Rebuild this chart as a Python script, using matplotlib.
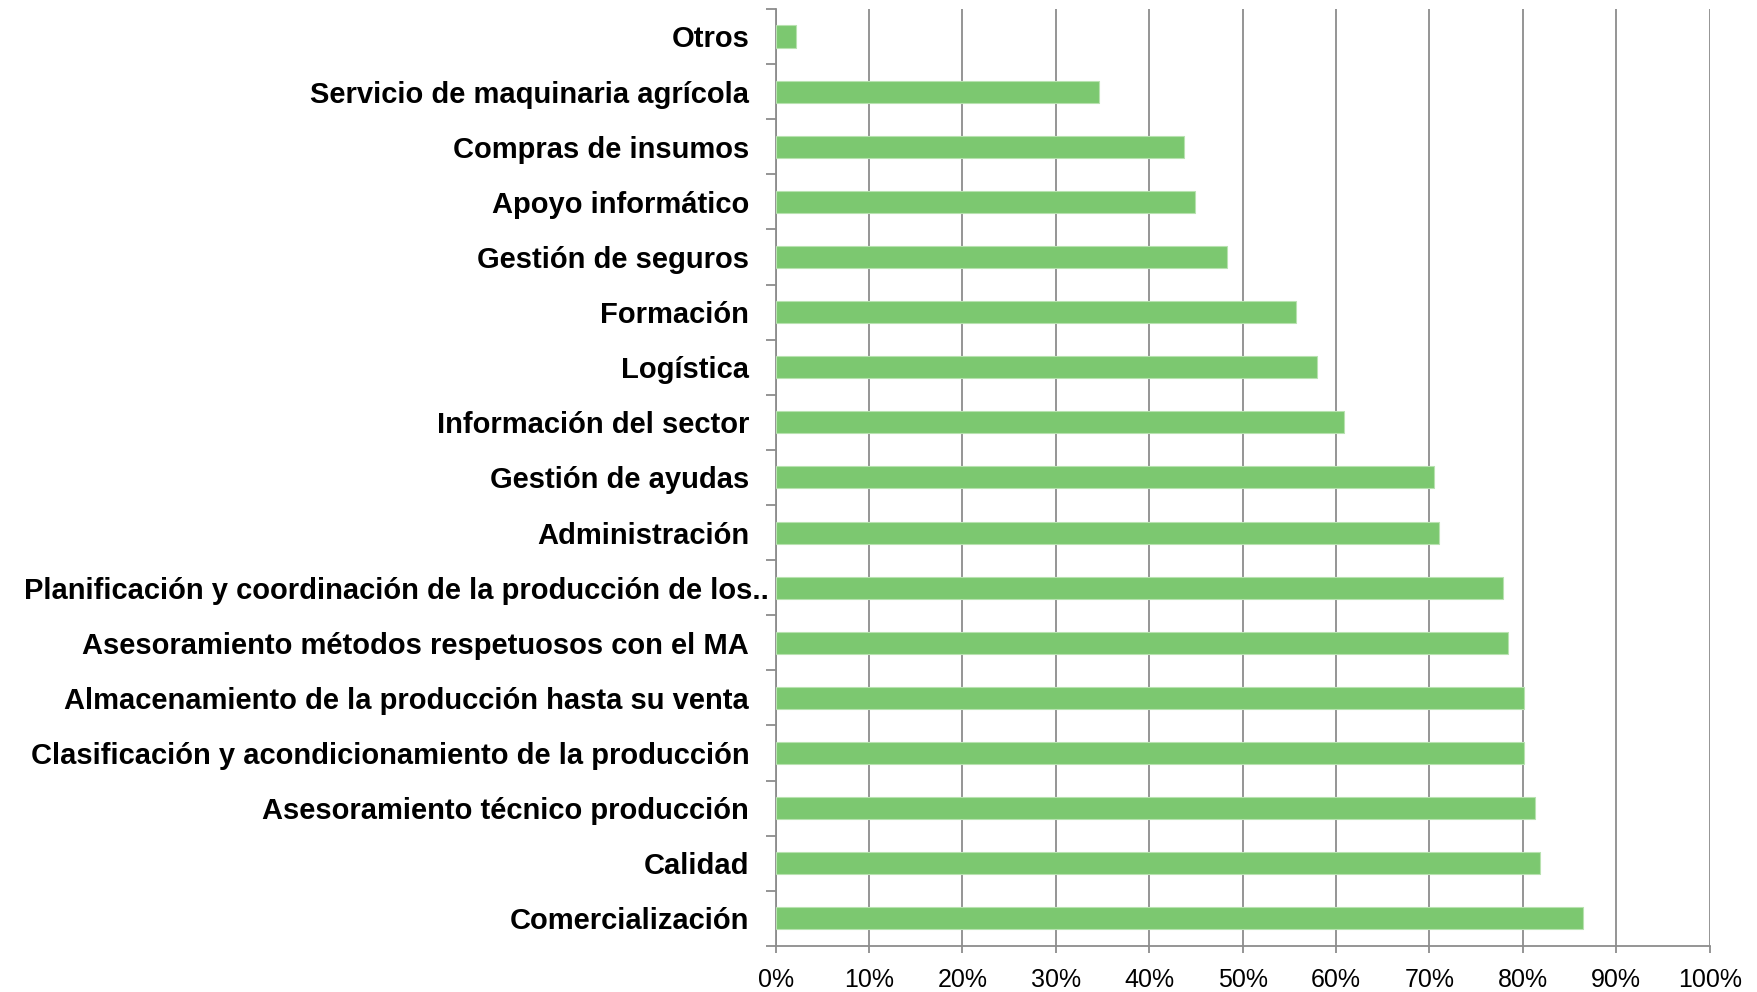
import matplotlib.pyplot as plt
import matplotlib.transforms as mtransforms
from matplotlib.ticker import FixedLocator, PercentFormatter

# services, bottom to top
services = [
    'Comercialización',
    'Calidad',
    'Asesoramiento técnico producción',
    'Clasificación y acondicionamiento de la producción',
    'Almacenamiento de la producción hasta su venta',
    'Asesoramiento métodos respetuosos con el MA',
    'Planificación y coordinación de la producción de los..',
    'Administración',
    'Gestión de ayudas',
    'Información del sector',
    'Logística',
    'Formación',
    'Gestión de seguros',
    'Apoyo informático',
    'Compras de insumos',
    'Servicio de maquinaria agrícola',
    'Otros',
]
shares = [86.4, 81.8, 81.3, 80.1, 80.1, 78.4, 77.9, 71.0, 70.5, 60.8,
          58.0, 55.7, 48.3, 44.9, 43.7, 34.6, 2.2]
x_ticks = [0, 10, 20, 30, 40, 50, 60, 70, 80, 90, 100]

plt.rcParams['font.family'] = ['Liberation Sans', 'DejaVu Sans']

fig = plt.figure(figsize=(17.58, 9.92), dpi=100)
ax = fig.add_axes([0.4412, 0.0464, 0.5313, 0.9446])

pos = list(range(len(services)))
ax.barh(pos, shares, height=0.4, color='#7cc870', edgecolor='#b8e2b0',
        linewidth=0.8, zorder=3)

ax.set_xlim(0, 100)
ax.set_ylim(-0.5, len(services) - 0.5)

ax.xaxis.set_major_locator(FixedLocator(x_ticks))
ax.xaxis.set_major_formatter(PercentFormatter(decimals=0))
ax.grid(axis='x', color='#8c8c8c', linewidth=1.3, zorder=1)
ax.tick_params(axis='x', length=5, width=1.3, color='#8c8c8c',
               labelsize=18, pad=11)

ax.set_yticks(pos)
ax.set_yticklabels(services, fontsize=21, fontweight='bold')
ax.tick_params(axis='y', which='major', length=0, pad=19)
ax.set_yticks([p - 0.5 for p in pos] + [len(services) - 0.5], minor=True)
ax.tick_params(axis='y', which='minor', length=7, width=1.3, color='#8c8c8c')

# the truncated label sticks out further to the right
lbl = ax.get_yticklabels()[6]
lbl.set_transform(lbl.get_transform() +
                  mtransforms.ScaledTranslation(20 / 100, 0, fig.dpi_scale_trans))

for side in ['top', 'right']:
    ax.spines[side].set_visible(False)
for side in ['left', 'bottom']:
    ax.spines[side].set_color('#8c8c8c')
    ax.spines[side].set_linewidth(1.3)

fig.savefig('out.png', dpi=100)
